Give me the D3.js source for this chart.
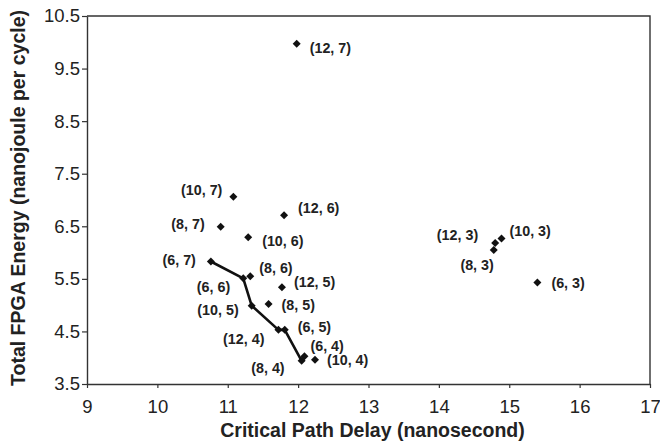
<!DOCTYPE html>
<html>
<head>
<meta charset="utf-8">
<script src="https://cdn.jsdelivr.net/npm/d3@7/dist/d3.min.js"></script>
<style>
  html, body { margin: 0; padding: 0; background: #fff; }
  svg { display: block; font-family: Arial, "Liberation Sans", Helvetica, sans-serif; }
</style>
</head>
<body>
<svg id="chart" width="660" height="444"></svg>
<script>
// ---- data ----
const labels = ["(12, 7)","(10, 7)","(12, 6)","(8, 7)","(10, 6)","(6, 7)","(8, 6)","(6, 6)","(12, 5)","(10, 5)",
                "(8, 5)","(6, 5)","(12, 4)","(6, 4)","(10, 4)","(8, 4)","(12, 3)","(10, 3)","(8, 3)","(6, 3)"];
const delay  = [11.98,11.08,11.80,10.90,11.29,10.76,11.32,11.22,11.77,11.34,
                11.58,11.81,11.72,12.09,12.24,12.05,14.80,14.89,14.78,15.40];
const energy = [9.97,7.06,6.71,6.49,6.29,5.83,5.55,5.51,5.34,4.99,
                5.02,4.53,4.53,4.03,3.96,3.94,6.18,6.27,6.05,5.43];
const frontier = ["(6, 7)","(6, 6)","(10, 5)","(12, 4)","(6, 5)","(8, 4)"];
const xTicks = [9,10,11,12,13,14,15,16,17];
const yTicks = [3.5,4.5,5.5,6.5,7.5,8.5,9.5,10.5];
const xTitle = "Critical Path Delay (nanosecond)";
const yTitle = "Total FPGA Energy (nanojoule per cycle)";

// ---- label placement (annotation layout) ----
const labelPlace = {
  "(12, 7)": ["start", 13, 4],  "(10, 7)": ["end", -11, -7], "(12, 6)": ["start", 14, -7],
  "(8, 7)":  ["end", -16, -3],  "(10, 6)": ["start", 14, 4], "(6, 7)":  ["end", -15, -2],
  "(8, 6)":  ["start", 9, -8],  "(6, 6)":  ["end", -13, 9],  "(12, 5)": ["start", 12, -5],
  "(10, 5)": ["end", -13, 4],   "(8, 5)":  ["start", 13, 1], "(6, 5)":  ["start", 13, -3],
  "(12, 4)": ["end", -14, 9],   "(6, 4)":  ["start", 6, -10],"(10, 4)": ["start", 12, 0],
  "(8, 4)":  ["end", -17, 7],   "(12, 3)": ["end", -17, -8], "(10, 3)": ["start", 8, -8],
  "(8, 3)":  ["end", 0, 15],    "(6, 3)":  ["start", 14, 0]
};

const pts = labels.map((l, i) => ({label: l, x: delay[i], y: energy[i]}));
const byLabel = new Map(pts.map(p => [p.label, p]));

const svg = d3.select("#chart");
const mLeft = 87, mRight = 650, mTop = 16, mBottom = 384;
const x = d3.scaleLinear().domain([9, 17]).range([mLeft, mRight]);
const y = d3.scaleLinear().domain([3.5, 10.5]).range([mBottom, mTop]);
const axisColor = "#333";

// frame (top & right)
svg.append("path")
  .attr("d", `M${mLeft},${mTop}H${mRight}V${mBottom}`)
  .attr("fill", "none").attr("stroke", axisColor).attr("stroke-width", 1.4);

// x axis
const gx = svg.append("g").attr("transform", `translate(0,${mBottom})`)
  .call(d3.axisBottom(x).tickValues(xTicks).tickSize(4).tickSizeOuter(0).tickFormat(d3.format("d")));
gx.select(".domain").attr("stroke", axisColor).attr("stroke-width", 1.4);
gx.selectAll(".tick line").attr("stroke", axisColor).attr("stroke-width", 1.2);
gx.selectAll(".tick text").attr("fill", "#222").attr("font-size", 18.5).attr("dy", "1.2em")
  .attr("font-family", "Arial, 'Liberation Sans', sans-serif");

// y axis
const gy = svg.append("g").attr("transform", `translate(${mLeft},0)`)
  .call(d3.axisLeft(y).tickValues(yTicks).tickSize(5).tickSizeOuter(0).tickFormat(d3.format(".1f")));
gy.select(".domain").attr("stroke", axisColor).attr("stroke-width", 1.4);
gy.selectAll(".tick text").attr("fill", "#222").attr("font-size", 18.5).attr("x", -7)
  .attr("font-family", "Arial, 'Liberation Sans', sans-serif");
gy.selectAll(".tick line").attr("stroke", axisColor).attr("stroke-width", 1.2);

// axis titles
svg.append("text").attr("x", (mLeft + mRight) / 2 + 4).attr("y", 437)
  .attr("text-anchor", "middle").attr("font-weight", "bold").attr("font-size", 19.5)
  .attr("fill", "#222").text(xTitle);
svg.append("text").attr("transform", `translate(25,198) rotate(-90)`)
  .attr("text-anchor", "middle").attr("font-weight", "bold").attr("font-size", 19.5)
  .attr("fill", "#222").text(yTitle);

// frontier line
const line = d3.line().x(d => x(d.x)).y(d => y(d.y));
svg.append("path").datum(frontier.map(l => byLabel.get(l)))
  .attr("d", line).attr("fill", "none").attr("stroke", "#111").attr("stroke-width", 2.6)
  .attr("stroke-linejoin", "round");

// markers
const sym = d3.symbol().type(d3.symbolSquare).size(32);
svg.append("g").selectAll("path").data(pts).join("path")
  .attr("d", sym)
  .attr("transform", d => `translate(${x(d.x)},${y(d.y)}) rotate(45)`)
  .attr("fill", "#111");

// labels
svg.append("g").selectAll("text").data(pts).join("text")
  .attr("x", d => x(d.x) + labelPlace[d.label][1])
  .attr("y", d => y(d.y) + labelPlace[d.label][2])
  .attr("dy", "0.36em")
  .attr("text-anchor", d => labelPlace[d.label][0])
  .attr("font-weight", "bold").attr("font-size", 14.3).attr("fill", "#222")
  .text(d => d.label);
</script>
</body>
</html>
